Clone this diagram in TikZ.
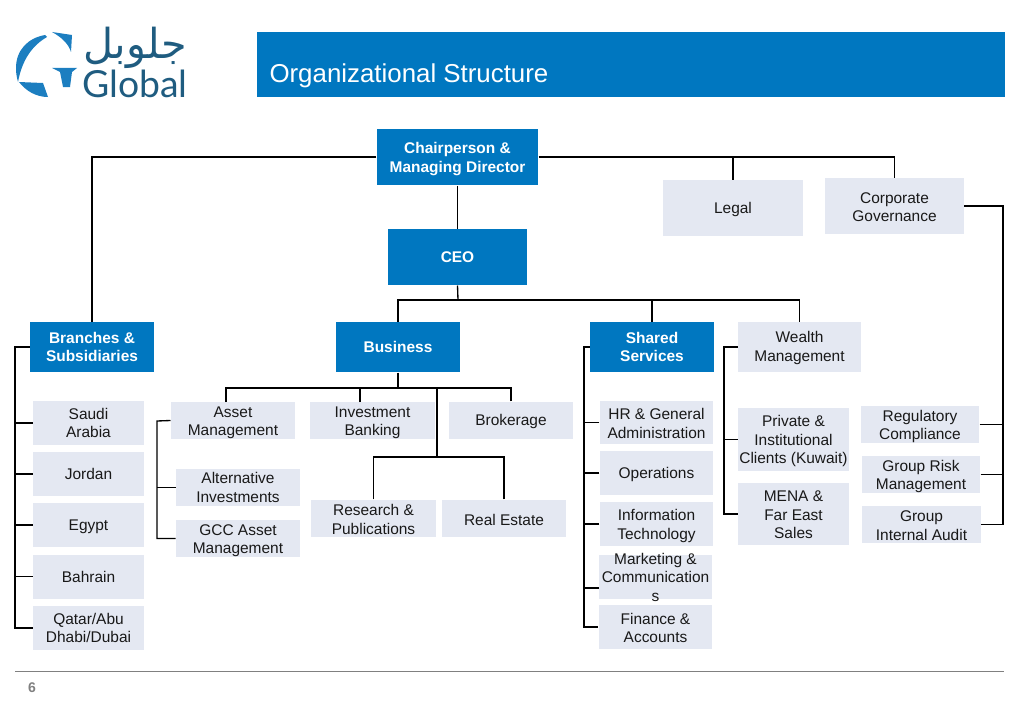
\documentclass[tikz,border=0pt]{standalone}
\usepackage{fontspec}
\setmainfont{Liberation Sans}
\newfontfamily\arabicfont[Script=Arabic]{DejaVu Sans}
\newfontfamily\logofont{Lato}
\TeXXeTstate=1
\definecolor{bannerblue}{RGB}{0,119,192}
\definecolor{logoblue}{RGB}{28,126,192}
\definecolor{logotext}{RGB}{31,92,128}
\definecolor{unitfill}{RGB}{228,232,242}
\definecolor{footgray}{RGB}{128,128,128}
\newcommand{\drop}[1]{\rule{0pt}{\dimexpr 8.3pt+1.5pt*#1\relax}}
\tikzset{every picture/.style={line width=0.75pt},
	unitbox/.style={fill=unitfill,inner sep=0pt,align=center,text=black!90,font=\fontsize{11.6}{13.9}\selectfont},
	headbox/.style={fill=bannerblue,inner sep=0pt,align=center,text=white,font=\fontsize{11.6}{13.9}\selectfont\bfseries},
	link/.style={draw=black,line width=1pt},
}

\begin{document}
\begin{tikzpicture}[x=0.75pt,y=0.75pt,yscale=-1,xscale=1]
	\useasboundingbox (0,0) rectangle (1023,724);

	%Logo
	\fill [logoblue] (45,35) .. controls (28,38) and (16,50) .. (16,68) .. controls (16,74) and (17,78) .. (18,82) .. controls (21,66) and (28,48) .. (47,37) -- cycle;
	\fill [logoblue] (19,82) -- (43,83) -- (48,97) .. controls (36,97) and (26,91) .. (19,82) -- cycle;
	\fill [logoblue] (52,32) -- (72,35) -- (71,52) .. controls (69,45) and (63,38) .. (52,32) -- cycle;
	\fill [logoblue] (52,68) -- (77,68) -- (72,72) -- (70,87) -- (63,87) -- (60,72) -- cycle;
	\node (logoarabic) at (135,48) [text=logotext,inner sep=0pt] {\fontsize{31}{31}\arabicfont\beginR جلوبل\endR};
	\node (logoname) at (135,84) [text=logotext,inner sep=0pt] {\fontsize{28}{28}\logofont Global};

	%Title
	\fill [bannerblue] (257,32) rectangle (1005,97);
	\node (title) at (269,75.5) [anchor=west,text=white,inner sep=0pt,font=\fontsize{19.4}{23}\selectfont] {Organizational Structure};

	%Top level
	\node (chair) at (457.5,157) [headbox,minimum width=121pt,minimum height=42pt] {\drop{2}Chairperson \&\\Managing Director};
	\node (legal) at (733,208) [unitbox,minimum width=105pt,minimum height=42pt] {\drop{2}Legal};
	\node (corpgov) at (894.5,206) [unitbox,minimum width=104pt,minimum height=42pt] {\drop{1}Corporate\\Governance};
	\node (ceo) at (457.5,257) [headbox,minimum width=104pt,minimum height=42pt] {CEO};

	%Divisions
	\node (branches) at (92,347) [headbox,minimum width=93pt,minimum height=37.5pt] {Branches \&\\Subsidiaries};
	\node (business) at (398,347) [headbox,minimum width=93pt,minimum height=37.5pt] {Business};
	\node (shared) at (652,347) [headbox,minimum width=93pt,minimum height=37.5pt] {Shared\\Services};
	\node (wealth) at (799.5,347) [unitbox,minimum width=92pt,minimum height=37.5pt] {\drop{1}Wealth\\Management};

	%Branches
	\node (saudi) at (88.5,423) [unitbox,minimum width=83pt,minimum height=33pt] {Saudi\\Arabia};
	\node (jordan) at (88.5,474) [unitbox,minimum width=83pt,minimum height=33pt] {Jordan};
	\node (egypt) at (88.5,525) [unitbox,minimum width=83pt,minimum height=33pt] {\drop{2}Egypt};
	\node (bahrain) at (88.5,576.5) [unitbox,minimum width=83pt,minimum height=33pt] {Bahrain};
	\node (qatar) at (88.5,628) [unitbox,minimum width=83pt,minimum height=33pt] {Qatar/Abu\\Dhabi/Dubai};

	%Business
	\node (asset) at (233,420.5) [unitbox,minimum width=93pt,minimum height=28pt] {\drop{2}Asset\\Management};
	\node (invest) at (372.5,420.5) [unitbox,minimum width=94pt,minimum height=28pt] {\drop{2}Investment\\Banking};
	\node (brokerage) at (511,420.5) [unitbox,minimum width=93pt,minimum height=28pt] {\drop{1}Brokerage};
	\node (altinv) at (238,487.5) [unitbox,minimum width=93pt,minimum height=28pt] {Alternative\\Investments};
	\node (gcc) at (238,538.5) [unitbox,minimum width=93pt,minimum height=28pt] {\drop{2}GCC Asset\\Management};
	\node (research) at (373.5,518.5) [unitbox,minimum width=94pt,minimum height=28pt] {\drop{1}Research \&\\Publications};
	\node (realestate) at (504,518.5) [unitbox,minimum width=93pt,minimum height=28pt] {\drop{2}Real Estate};

	%Shared services
	\node (hr) at (656.5,422.5) [unitbox,minimum width=85pt,minimum height=32pt] {\drop{1}HR \& General\\Administration};
	\node (operations) at (656.5,473) [unitbox,minimum width=85pt,minimum height=33pt] {\drop{2}Operations};
	\node (infotech) at (656.5,524) [unitbox,minimum width=85pt,minimum height=33pt] {\drop{2}Information\\Technology};
	\node (marketing) at (655.5,577) [unitbox,inner ysep=-3pt,minimum width=85pt,minimum height=33pt] {Marketing \&\\Communication\\s};
	\node (finance) at (655.5,627) [unitbox,minimum width=85pt,minimum height=33pt] {\drop{1}Finance \&\\Accounts};

	%Wealth management
	\node (private) at (793.5,439.5) [unitbox,minimum width=83pt,minimum height=47pt] {\drop{2}Private \&\\Institutional\\Clients (Kuwait)};
	\node (mena) at (793.5,514) [unitbox,minimum width=83pt,minimum height=46.5pt] {\drop{1}MENA \&\\Far East\\Sales};

	%Governance
	\node (regulatory) at (920,424.5) [unitbox,minimum width=88.5pt,minimum height=28pt] {\drop{2}Regulatory\\Compliance};
	\node (grouprisk) at (921,474.5) [unitbox,minimum width=88.5pt,minimum height=28pt] {\drop{2}Group Risk\\Management};
	\node (audit) at (921.5,524.5) [unitbox,minimum width=89pt,minimum height=28pt] {\drop{1}Group\\Internal Audit};

	%Junctions
	\coordinate (ceobus) at (458,300);
	\coordinate (businessbus) at (398,388);
	\coordinate (lowerbus) at (437,457);
	\coordinate (branchtrunk) at (15,347);
	\coordinate (assettrunk) at (157,421);
	\coordinate (sharedtrunk) at (584,347);
	\coordinate (wealthtrunk) at (724,347);
	\coordinate (govtrunk) at (1003,206);

	%Links from the top
	\draw [link] (chair.west) -| (branches.north);
	\draw [link] (chair.east) -| (corpgov.north);
	\draw [link] (legal.north) -- (legal.north |- chair.east);
	\draw [link] (chair.south) -- (ceo.north);
	\draw [link] (ceo.south) -- (ceobus);
	\draw [link] (business.north) |- (ceobus);
	\draw [link] (wealth.north) |- (ceobus);
	\draw [link] (shared.north) -- (shared.north |- ceobus);

	%Links below business
	\draw [link] (business.south) -- (businessbus);
	\draw [link] (226,402) |- (businessbus);
	\draw [link] (brokerage.north) |- (businessbus);
	\draw [link] (360,402) -- (360,388);
	\draw [link] (lowerbus |- businessbus) -- (lowerbus);
	\draw [link] (research.north) |- (lowerbus);
	\draw [link] (realestate.north) |- (lowerbus);
	\draw [link] (asset.west) -- (assettrunk) |- (gcc.west);
	\draw [link] (altinv.west) -- (altinv.west -| assettrunk);

	%Links on the left of the columns
	\draw [link] (branches.west) -- (branchtrunk) |- (qatar.west);
	\foreach \unit in {saudi,jordan,egypt,bahrain}
		\draw [link] (\unit.west) -- (\unit.west -| branchtrunk);
	\draw [link] (shared.west) -- (sharedtrunk) |- (finance.west);
	\foreach \unit in {hr,operations,infotech}
		\draw [link] (\unit.west) -- (\unit.west -| sharedtrunk);
	\draw [link] (599,588) -- (sharedtrunk |- 599,588);
	\draw [link] (wealth.west) -- (wealthtrunk) |- (mena.west);
	\draw [link] (private.west) -- (private.west -| wealthtrunk);

	%Links on the right
	\draw [link] (corpgov.east) -- (govtrunk) |- (audit.east);
	\foreach \unit in {regulatory,grouprisk}
		\draw [link] (\unit.east) -- (\unit.east -| govtrunk);

	%Footer
	\draw [footgray,line width=0.75pt] (15,671) -- (1004,671);
	\node (pagenum) at (32,688) [text=footgray,inner sep=0pt,font=\fontsize{10.5}{12}\selectfont\bfseries] {6};
\end{tikzpicture}
\end{document}
